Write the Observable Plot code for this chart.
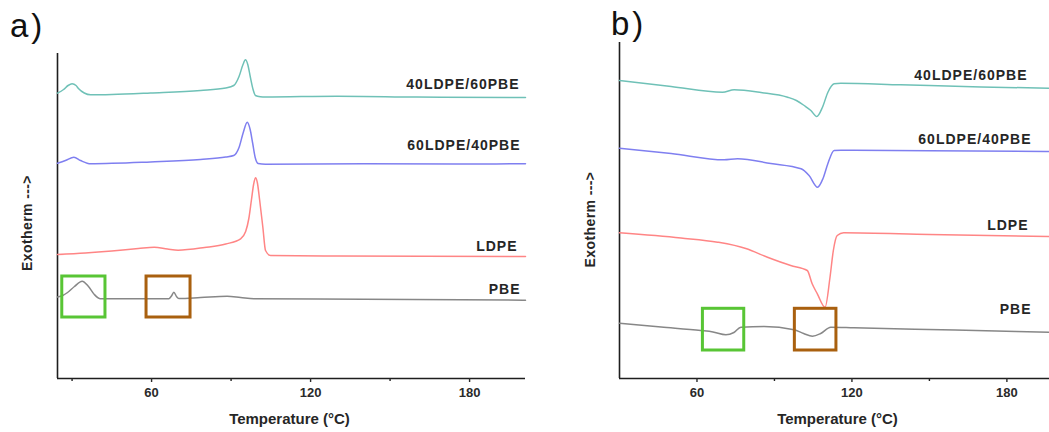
<!DOCTYPE html>
<html>
<head>
<meta charset="utf-8">
<script src="https://cdn.jsdelivr.net/npm/d3@7"></script>
<script src="https://cdn.jsdelivr.net/npm/@observablehq/plot@0.6"></script>
<style>
  html, body { margin: 0; padding: 0; background: #fff; }
  body { width: 1049px; height: 432px; overflow: hidden; position: relative; font-family: Arial, "Liberation Sans", sans-serif; }
  .panel { position: absolute; top: 0; }
  .tag { position: absolute; font-size: 33px; line-height: 1; color: #111; letter-spacing: 3px; }
</style>
</head>
<body>
<div id="pa" class="panel" style="left:0px"></div>
<div id="pb" class="panel" style="left:530px"></div>
<div class="tag" style="left:10px; top:9px;">a)</div>
<div class="tag" style="left:611px; top:7px;">b)</div>
<script>
// ---------- shared text / ticks ----------
const seriesNames = ["40LDPE/60PBE", "60LDPE/40PBE", "LDPE", "PBE"];
const majorTicks = [60, 120, 180];
const minorTicks = [30, 90, 150];
const xTitle = "Temperature (°C)";
const yTitle = "Exotherm --->";

// ---------- panel a) : heating, temperature (°C) vs signal (arb. units) ----------
const a4060T = [24.5, 26.8, 28.5, 30.0, 31.5, 32.4, 34.6, 37.0, 45, 59.6, 78.5, 88, 91, 93.0, 94.5, 95.4, 96.3, 97.3, 98.3, 99.2, 101, 103, 130, 160, 201.1];
const a4060V = [285.3, 289, 293, 294.7, 293, 290, 285.5, 283.7, 284, 285.5, 288, 290.5, 293, 302, 314, 318.7, 314, 301, 289, 283, 281.8, 281.5, 282.3, 281.5, 281.0];

const a6040T = [24.5, 27.5, 30.7, 33.2, 37.0, 59.6, 78.5, 88, 91, 93, 94.6, 96.1, 97.2, 98.1, 99.1, 100.2, 103, 140, 175, 201.1];
const a6040V = [215.3, 218, 221.3, 218, 214.7, 216.5, 219, 221.5, 223, 231, 246, 256.3, 249, 236, 221, 215, 214.3, 214.7, 214.5, 214.7];

const aLdpeT = [24.5, 35, 45, 55, 61, 66, 70, 80, 88, 93.6, 95.5, 96.7, 97.7, 98.5, 99.2, 99.9, 100.8, 102, 103, 104.9, 130, 201.1];
const aLdpeV = [124, 125.5, 127.5, 130, 131.3, 129.5, 128.3, 131, 134.5, 139.7, 147, 160, 179, 194, 200.7, 196, 178, 151, 128, 123, 122.5, 122];

const aPbeT = [24.5, 26.5, 28.3, 30.9, 33.8, 36.2, 38.4, 40.7, 66.5, 67.5, 68.4, 69.4, 70.3, 78.5, 88.5, 93.6, 98.6, 140, 201.1];
const aPbeV = [81.5, 83, 86, 92, 97.3, 92, 84, 79.7, 79.7, 82.5, 86.3, 82, 80, 81, 82.3, 81, 79.7, 79.3, 78.3];

// highlight boxes of panel a): [T start, T end, signal low, signal high]
const aBoxGreen = [26.3, 42.6, 61, 102];
const aBoxBrown = [58.1, 74.7, 61, 102];

// ---------- panel b) : cooling ----------
const b4060T = [30, 50, 69.9, 74.4, 84.8, 95.1, 98.5, 101.5, 104.1, 106.4, 108.6, 110.7, 113.1, 115.7, 138.9, 170, 196.5];
const b4060V = [298, 292, 286.3, 288.7, 286, 281.3, 278, 273, 268, 262, 271.3, 286.3, 294.7, 295.3, 293.7, 291.5, 290.3];

const b6040T = [30, 50, 70.5, 75.7, 88.6, 100.3, 103.4, 106.7, 108.8, 110.7, 113.1, 115.7, 150, 196.5];
const b6040V = [230.3, 225, 218.7, 219.7, 215, 209.7, 203, 191.3, 200, 215, 228, 228.3, 227.8, 227];

const bLdpeT = [30, 53.8, 68.0, 78.9, 87.3, 96.3, 102.7, 104.6, 106.6, 109.6, 111.5, 112.8, 114.3, 116.8, 150, 196.5];
const bLdpeV = [145.7, 140.5, 136.3, 130, 121.3, 113, 108, 94.7, 84.7, 71.3, 101, 128, 143, 145.7, 144, 142];

const bPbeT = [30, 46.1, 61.5, 66.2, 71.2, 74.3, 77.0, 86.0, 97.6, 101.3, 104.7, 107.9, 111.8, 120.8, 160, 196.5];
const bPbeV = [55.3, 51.5, 48, 46.5, 43.7, 46, 51.3, 52, 48.7, 45, 42.3, 45, 51.3, 50.7, 48.5, 46.3];

const bBoxGreen = [62.3, 78.3, 28, 69.7];
const bBoxBrown = [97.9, 114.0, 28, 69.7];

// ---------- styling (not data) ----------
const colors = ["#6fc1b7", "#7f7ff0", "#ff8585", "#878787"];
const boxColors = ["#58c535", "#a9600f"];

function rows(T, V) { return T.map((t, i) => ({t, v: V[i]})); }

function panel({series, boxes, xDomain, yDomain, width, margin, labelOffsets, yTitleShift, xTitleShift}) {
  const marks = [];
  marks.push(Plot.ruleY([yDomain[0]], {stroke: "#1e1e1e", strokeWidth: 1.6}));
  marks.push(Plot.ruleX([xDomain[0]], {stroke: "#1e1e1e", strokeWidth: 1.6}));
  marks.push(Plot.axisX(majorTicks, {tickSize: 4, tickPadding: 5, fontSize: 13, fontWeight: "bold", color: "#2a2a2a", label: null, strokeWidth: 1.4}));
  marks.push(Plot.axisX(minorTicks.filter(d => d > xDomain[0] + 1), {tickSize: 3, tickFormat: () => "", label: null, color: "#222", strokeWidth: 1.4}));
  series.forEach((s, k) => {
    marks.push(Plot.line(rows(s[0], s[1]), {x: "t", y: "v", stroke: colors[k], strokeWidth: 1.5, curve: "monotone-x"}));
  });
  boxes.forEach((b, k) => {
    marks.push(Plot.rect([{x1: b[0], x2: b[1], y1: b[2], y2: b[3]}], {x1: "x1", x2: "x2", y1: "y1", y2: "y2", fill: "none", stroke: boxColors[k], strokeWidth: 3}));
  });
  series.forEach((s, k) => {
    const n = s[0].length - 1;
    marks.push(Plot.text([{t: s[0][n], v: s[1][n], name: seriesNames[k]}], {
      x: "t", y: "v", text: "name", textAnchor: "end", lineAnchor: "bottom",
      dx: labelOffsets[k][0], dy: labelOffsets[k][1], fontSize: 14, fontWeight: "bold", fill: "#262626"
    }));
  });
  marks.push(Plot.text([xTitle], {frameAnchor: "bottom", textAnchor: "middle", dx: xTitleShift[0], dy: xTitleShift[1], fontSize: 15, fontWeight: "bold", fill: "#262626", lineAnchor: "middle"}));
  marks.push(Plot.text([yTitle], {frameAnchor: "left", textAnchor: "middle", rotate: -90, dx: yTitleShift[0], dy: yTitleShift[1], fontSize: 14, fontWeight: "bold", fill: "#262626", lineAnchor: "middle"}));
  const svg = Plot.plot({
    width, height: 432,
    marginLeft: margin[0], marginRight: margin[1], marginTop: margin[2], marginBottom: margin[3],
    x: {domain: xDomain},
    y: {domain: yDomain, axis: null},
    style: {fontFamily: "Arial, 'Liberation Sans', sans-serif", background: "#fff", overflow: "visible"},
    marks
  });
  d3.select(svg).selectAll("text").filter(function() {
    return seriesNames.includes(this.textContent);
  }).style("letter-spacing", "1px");
  d3.select(svg).selectAll("text").filter(function() {
    return this.textContent === yTitle;
  }).style("letter-spacing", "0.4px");
  return svg;
}

document.getElementById("pa").appendChild(panel({
  series: [[a4060T, a4060V], [a6040T, a6040V], [aLdpeT, aLdpeV], [aPbeT, aPbeV]],
  boxes: [aBoxGreen, aBoxBrown],
  xDomain: [24.5, 201.1], yDomain: [0, 325],
  width: 530, margin: [57, 5, 53, 54],
  labelOffsets: [[-6, -8.7], [-5, -14], [-8, -6], [-5, -6.7]],
  yTitleShift: [-30, 7], xTitleShift: [-2, 41]
}));

document.getElementById("pb").appendChild(panel({
  series: [[b4060T, b4060V], [b6040T, b6040V], [bLdpeT, bLdpeV], [bPbeT, bPbeV]],
  boxes: [bBoxGreen, bBoxBrown],
  xDomain: [30, 196.5], yDomain: [0, 336],
  width: 519, margin: [89, 0, 42, 54],
  labelOffsets: [[-22, -8.7], [-18, -8], [-21, -7], [-18, -18.7]],
  yTitleShift: [-29, 9], xTitleShift: [3, 41]
}));
</script>
</body>
</html>
